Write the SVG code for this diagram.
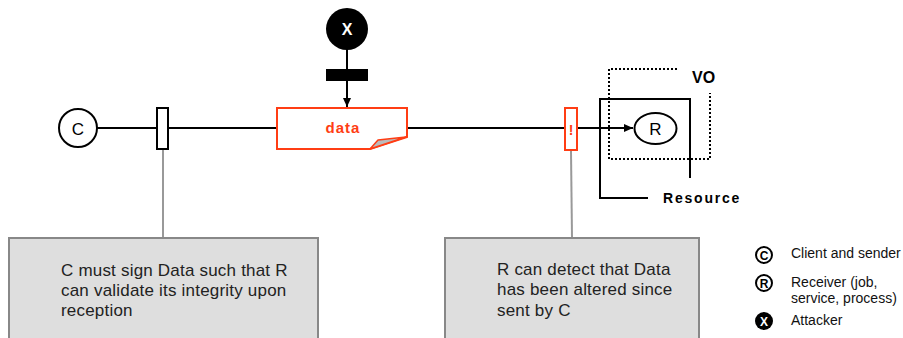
<svg xmlns="http://www.w3.org/2000/svg" width="903" height="338" viewBox="0 0 903 338">
<style>
.ln{stroke:#000;stroke-width:2;fill:none}
.gl{stroke:#999;stroke-width:2;fill:none}
.note{fill:#dedede;stroke:#888;stroke-width:2}
.nt{font-family:"Liberation Sans",Arial,sans-serif;font-size:17px;fill:#222;letter-spacing:0.2px}
.lg{font-family:"Liberation Sans",Arial,sans-serif;font-size:14px;fill:#111}
.red{stroke:#ff3d14;stroke-width:2;fill:#fff}
.nodeT{font-family:"Liberation Sans",Arial,sans-serif;font-size:17px;fill:#000;text-anchor:middle}
.b{font-family:"Liberation Sans",Arial,sans-serif;font-weight:bold;fill:#000}
</style>
<defs>
<marker id="ah" markerWidth="10" markerHeight="10" refX="9" refY="5" orient="auto" markerUnits="userSpaceOnUse">
<path d="M0,1 L9,5 L0,9 Z" fill="#000"/>
</marker>
</defs>
<g id="connectors">
<line class="ln" x1="97" y1="128" x2="157" y2="128"/>
<line class="ln" x1="168" y1="128" x2="277" y2="128"/>
<line class="ln" x1="407" y1="128" x2="565" y2="128"/>
<line class="ln" x1="577" y1="128" x2="633" y2="128" marker-end="url(#ah)"/>
<line class="ln" x1="347" y1="50" x2="347" y2="107" marker-end="url(#ah)"/>
<line class="gl" x1="163" y1="150" x2="163" y2="238"/>
<line class="gl" x1="571" y1="151" x2="572" y2="238"/>
</g>
<g id="resource">
<path class="ln" d="M648,198 H600 V99 H690 V178"/>
<text class="b" x="663" y="203" font-size="14" letter-spacing="1.8">Resource</text>
</g>
<g id="vo">
<path d="M677,69 H609 V159 H710 V93" fill="none" stroke="#000" stroke-width="2" stroke-dasharray="2,2"/>
<text class="b" x="692" y="83" font-size="16">VO</text>
</g>
<g id="client">
<circle cx="78" cy="128" r="19" fill="#fff" stroke="#000" stroke-width="2"/>
<text class="nodeT" x="78" y="134.5">C</text>
</g>
<g id="sign">
<rect x="157" y="108" width="11" height="41" fill="#fff" stroke="#000" stroke-width="2"/>
</g>
<g id="attacker">
<circle cx="347" cy="29" r="21" fill="#000"/>
<text class="b" x="347" y="35" font-size="16" text-anchor="middle" style="fill:#fff">X</text>
<rect x="326" y="69" width="42" height="12" fill="#000"/>
</g>
<g id="data">
<path class="red" d="M277,108 H407 V137 L370,149 H277 Z"/>
<polygon points="370,149 378,140 406,137" fill="#bbb" stroke="#ff3d14" stroke-width="1.5" stroke-linejoin="round"/>
<text x="343" y="133" font-family="Liberation Sans, Arial, sans-serif" font-size="15" font-weight="bold" fill="#ff3d14" text-anchor="middle" letter-spacing="1">data</text>
</g>
<g id="check">
<rect class="red" x="565" y="108" width="12" height="42"/>
<text x="571" y="135" font-family="Liberation Sans, Arial, sans-serif" font-size="14" font-weight="bold" fill="#ff3d14" text-anchor="middle">!</text>
</g>
<g id="receiver">
<ellipse cx="655.5" cy="128.5" rx="21" ry="15.5" fill="#fff" stroke="#000" stroke-width="2"/>
<text class="nodeT" x="655.5" y="135">R</text>
</g>
<g id="note1">
<rect class="note" x="9" y="238" width="309" height="110"/>
<text class="nt" x="61" y="276">C must sign Data such that R</text>
<text class="nt" x="61" y="296">can validate its integrity upon</text>
<text class="nt" x="61" y="316">reception</text>
</g>
<g id="note2">
<rect class="note" x="445" y="238" width="254" height="110"/>
<text class="nt" x="497" y="275">R can detect that Data</text>
<text class="nt" x="497" y="295">has been altered since</text>
<text class="nt" x="497" y="316">sent by C</text>
</g>
<g id="legend">
<circle cx="764" cy="255" r="8" fill="#fff" stroke="#000" stroke-width="2"/>
<text class="b" x="764" y="259.5" font-size="12" text-anchor="middle">C</text>
<text class="lg" x="791" y="258">Client and sender</text>
<circle cx="764" cy="283" r="8" fill="#fff" stroke="#000" stroke-width="2"/>
<text class="b" x="764" y="287.5" font-size="12" text-anchor="middle">R</text>
<text class="lg" x="791" y="287">Receiver (job,</text>
<text class="lg" x="791" y="303">service, process)</text>
<circle cx="764" cy="321" r="9" fill="#000"/>
<text class="b" x="764" y="325.5" font-size="12" text-anchor="middle" style="fill:#fff">X</text>
<text class="lg" x="791" y="325">Attacker</text>
</g>
</svg>
